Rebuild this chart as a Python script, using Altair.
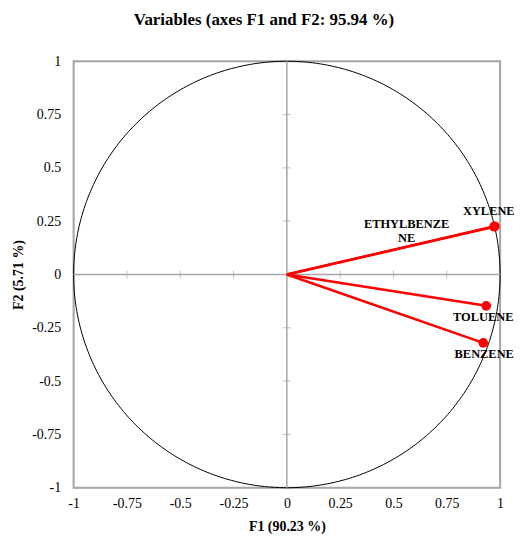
import altair as alt
import numpy as np
import pandas as pd

variables = ["BENZENE", "TOLUENE", "ETHYLBENZENE", "XYLENE"]
f1_values = [0.921, 0.935, 0.972, 0.975]
f2_values = [-0.321, -0.147, 0.224, 0.226]
tick_values = [-1, -0.75, -0.5, -0.25, 0, 0.25, 0.5, 0.75, 1]
inner_ticks = [-0.75, -0.5, -0.25, 0.25, 0.5, 0.75]

FONT = "Liberation Serif"
GRAY = "#a6a6a6"

df = pd.DataFrame({"var": variables, "F1": f1_values, "F2": f2_values})

# vectors from the origin to each variable
vec_rows = []
for v, a, b in zip(variables, f1_values, f2_values):
    vec_rows.append({"var": v, "k": 0, "F1": 0.0, "F2": 0.0})
    vec_rows.append({"var": v, "k": 1, "F1": a, "F2": b})
vdf = pd.DataFrame(vec_rows)

# unit circle (reference geometry)
ang = np.linspace(0, 2 * np.pi, 361)
circle = pd.DataFrame({"i": np.arange(len(ang)), "cx": np.cos(ang), "cy": np.sin(ang)})

xs = alt.Scale(domain=[-1, 1], nice=False, zero=False)
ys = alt.Scale(domain=[-1, 1], nice=False, zero=False)

xaxis = alt.Axis(values=tick_values, grid=False, ticks=False, domain=False,
                 labelFlush=False, labelOverlap=False,
                 labelExpr="'' + datum.value", labelFont=FONT, labelFontSize=14,
                 labelColor="#000", labelPadding=9, title="F1 (90.23 %)",
                 titleFont=FONT, titleFontSize=14, titleFontWeight="bold",
                 titleColor="#000", titlePadding=9)
yaxis = alt.Axis(values=tick_values, grid=False, ticks=False, domain=False,
                 labelFlush=False, labelOverlap=False,
                 labelExpr="'' + datum.value", labelFont=FONT, labelFontSize=14,
                 labelColor="#000", labelPadding=13, title="F2 (5.71 %)",
                 titleFont=FONT, titleFontSize=14, titleFontWeight="bold",
                 titleColor="#000", titlePadding=6)

circ = alt.Chart(circle).mark_line(color="black", strokeWidth=1).encode(
    x=alt.X("cx:Q", scale=xs, axis=xaxis),
    y=alt.Y("cy:Q", scale=ys, axis=yaxis),
    order="i:Q",
)

frame_df = pd.DataFrame({"x0": [tick_values[0]], "x1": [tick_values[-1]],
                         "y0": [tick_values[0]], "y1": [tick_values[-1]]})
frame = alt.Chart(frame_df).mark_rect(fillOpacity=0, stroke=GRAY, strokeWidth=2).encode(
    x=alt.X("x0:Q", scale=xs), x2="x1:Q", y=alt.Y("y0:Q", scale=ys), y2="y1:Q")

zdf = pd.DataFrame({"v": [0]})
vline = alt.Chart(zdf).mark_rule(color=GRAY, strokeWidth=1.5).encode(
    x=alt.X("v:Q", scale=xs))
hline = alt.Chart(zdf).mark_rule(color=GRAY, strokeWidth=1.5).encode(
    y=alt.Y("v:Q", scale=ys))

tdf = pd.DataFrame({"t": inner_ticks, "z": [0] * len(inner_ticks)})
xticks = alt.Chart(tdf).mark_tick(color=GRAY, size=8, thickness=1, orient="vertical").encode(
    x=alt.X("t:Q", scale=xs), y=alt.Y("z:Q", scale=ys))
yticks = alt.Chart(tdf).mark_tick(color=GRAY, size=8, thickness=1, orient="horizontal").encode(
    y=alt.Y("t:Q", scale=ys), x=alt.X("z:Q", scale=xs))

vec = alt.Chart(vdf).mark_line(color="#ff0000", strokeWidth=2.5).encode(
    x=alt.X("F1:Q", scale=xs), y=alt.Y("F2:Q", scale=ys),
    detail="var:N", order="k:Q")

pts = alt.Chart(df).mark_circle(color="#ff0000", size=95, opacity=1).encode(
    x=alt.X("F1:Q", scale=xs), y=alt.Y("F2:Q", scale=ys))

def label(name, dx, dy, text=None):
    d = df[df["var"] == name].copy()
    d["lab"] = [text if text is not None else name]
    return alt.Chart(d).mark_text(font=FONT, fontSize=12.5, fontWeight="bold", color="#000",
                                  dx=dx, dy=dy, lineBreak="\n").encode(
        x=alt.X("F1:Q", scale=xs), y=alt.Y("F2:Q", scale=ys), text="lab:N")

labels = [
    label("XYLENE", -6, -15),
    label("TOLUENE", -3, 11),
    label("BENZENE", 1, 11),
    label("ETHYLBENZENE", -88, -3, "ETHYLBENZE\nNE"),
]

chart = alt.layer(frame, circ, vline, hline, xticks, yticks, vec, pts, *labels).properties(
    width=429, height=429,
    autosize=alt.AutoSizeParams(type="none"),
    padding={"left": 66, "top": 52, "right": 14, "bottom": 46},
    title=alt.TitleParams("Variables (axes F1 and F2: 95.94 %)", font=FONT, fontSize=17,
                          fontWeight="bold", color="#000", offset=25, dx=-23),
).configure_view(stroke=None).configure(background="white")

chart.save("out.html", embed_options={"renderer": "svg", "actions": False})
